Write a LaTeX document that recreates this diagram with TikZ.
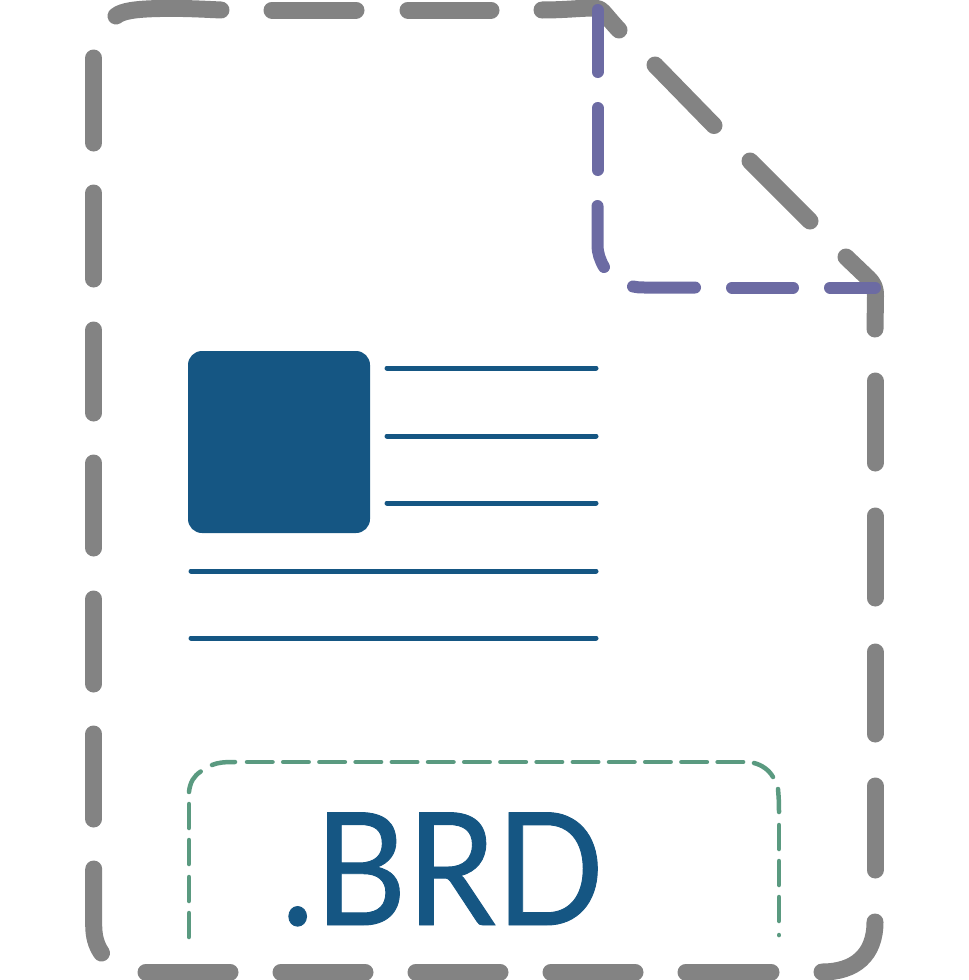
\documentclass[tikz,border=0pt]{standalone}
\usepackage{fontspec}
\setmainfont{Lato}[FakeBold=0.6]
\definecolor{sheetgray}{HTML}{838383}
\definecolor{foldpurple}{HTML}{6C6BA3}
\definecolor{inkblue}{HTML}{155683}
\definecolor{tagteal}{HTML}{5A9A80}
\tikzset{
  sheet/.style={draw=sheetgray,line width=17pt,line cap=round,line join=round},
  fold/.style={draw=foldpurple,line width=12pt,line cap=round,line join=round},
  textline/.style={draw=inkblue,line width=5pt,line cap=round},
  tag/.style={draw=tagteal,line width=4.5pt,line cap=round},
  label/.style={text=inkblue,inner sep=0pt,anchor=base west,xscale=0.907,font=\fontsize{157}{157}\selectfont}
}
\begin{document}
\begin{tikzpicture}[x=1pt,y=-1pt]
\useasboundingbox (0,0) rectangle (969,980);
% sheet outline: left side
\foreach \a/\b in {58/143,193/279,330/413,463/548,599/684,734/819}
  \draw[sheet] (93.7,\a) -- (93.7,\b);
\draw[sheet] (93.7,869) -- (93.7,925) .. controls (93.7,936) and (96,945) .. (101.5,953);
% top side
\draw[sheet] (116,16) .. controls (122,11) and (135,9) .. (160,8.5) .. controls (180,8) and (200,9) .. (221,10);
\foreach \a/\b in {272/356,408/491}
  \draw[sheet] (\a,10) -- (\b,10);
\draw[sheet] (542,10) .. controls (565,10) and (580,8) .. (595,8) .. controls (602,8) and (604,14) .. (619,30);
% diagonal
\draw[sheet] (655,65) -- (714,125.5);
\draw[sheet] (750,161) -- (810,221);
\draw[sheet] (846,257) -- (868,278) .. controls (874,284) and (875.5,288) .. (875.5,296) -- (875,329);
% right side
\foreach \a/\b in {381/463,516/598,652/734,786/870}
  \draw[sheet] (875,\a) -- (875,\b);
\draw[sheet] (875,922) .. controls (875,955) and (855,972) .. (822,972);
% bottom side
\foreach \a/\b in {146/230,281/365,416/500,551/635,686/771}
  \draw[sheet] (\a,972) -- (\b,972);
% folded corner
\draw[fold] (597.5,10) -- (597.5,72);
\draw[fold] (597.5,108) -- (597.5,170);
\draw[fold] (597.5,206) -- (597.5,245) .. controls (597.5,253) and (600,260) .. (604,267);
\draw[fold] (633,286.5) .. controls (637,287.5) and (640,287.5) .. (645,287.5) -- (695,287.5);
\draw[fold] (732,287.5) -- (793,287.5);
\draw[fold] (830,287.5) -- (875,287.5);
% content
\fill[inkblue,rounded corners=14pt] (188,351) rectangle (370,533);
\foreach \y in {368,436,503}
  \draw[textline] (387,\y) -- (596,\y);
\foreach \y in {571,638}
  \draw[textline] (191,\y) -- (596,\y);
% label frame
\draw[tag] (189,792) .. controls (190,782) and (194,776) .. (200.7,771.5);
\draw[tag] (212,765) .. controls (218,762.5) and (224,762) .. (235,762);
\foreach \a in {247,283.2,319.4,355.6,391.8,428,464.2,500.4,536.6,572.8,609,645.2,681.4,717.6}
  \draw[tag] (\a,762) -- ++(25.5,0);
\draw[tag] (754,763) .. controls (762,765) and (769,770) .. (773,777);
\draw[tag] (778,789) .. controls (778.5,795) and (779,800) .. (779,812);
\foreach \a in {825,861,897}
  \draw[tag] (779,\a) -- ++(0,24);
\draw[tag] (779,935) -- (779,935.1);
\foreach \a in {804,840,877,913}
  \draw[tag] (189,\a) -- ++(0,24);
% file extension
\node[label] (ext) at (280.7,925) {.BRD};
\end{tikzpicture}
\end{document}
